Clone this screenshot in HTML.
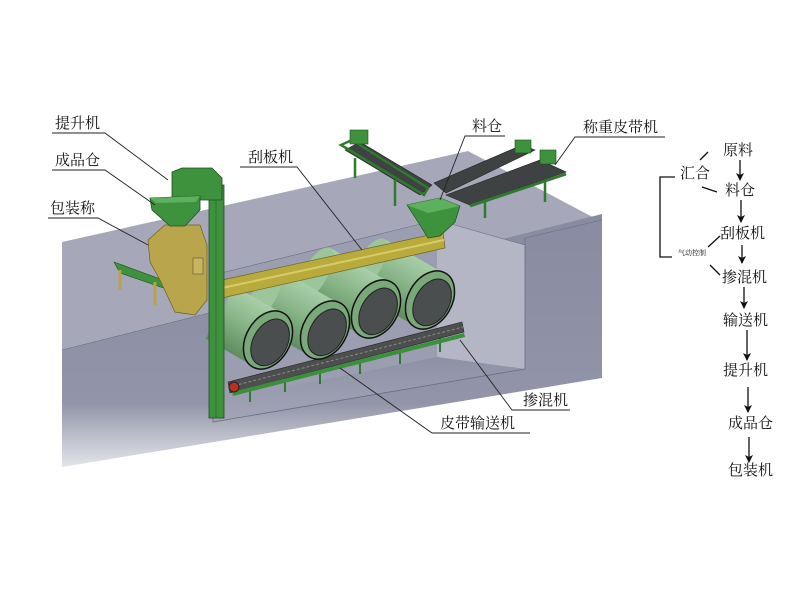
<!DOCTYPE html>
<html><head><meta charset="utf-8"><style>
html,body{margin:0;padding:0;background:#fff;}
svg{display:block}
text{font-family:"Noto Serif CJK SC","Liberation Serif",serif;fill:#111;}
</style></head><body>
<svg width="800" height="600" viewBox="0 0 800 600" xmlns="http://www.w3.org/2000/svg">
<defs>
<linearGradient id="fl" x1="0" y1="0" x2="0" y2="1"><stop offset="0" stop-color="#8e91a6"/><stop offset="1" stop-color="#a3a5b6"/></linearGradient>
<linearGradient id="ff" x1="0" y1="0" x2="0" y2="1"><stop offset="0" stop-color="#888ba1"/><stop offset="0.75" stop-color="#9295a9"/><stop offset="1" stop-color="#e4e5ea"/></linearGradient>
<linearGradient id="dr" x1="0" y1="0" x2="0" y2="1"><stop offset="0" stop-color="#a9cfa9"/><stop offset="0.5" stop-color="#86b386"/><stop offset="1" stop-color="#5f8d5f"/></linearGradient>
<marker id="ar" markerWidth="8" markerHeight="8" refX="7" refY="4" orient="auto" markerUnits="userSpaceOnUse"><path d="M0,0 L8,4 L0,8 L2,4 Z" fill="#111"/></marker>
</defs>

<!-- block -->
<polygon points="62,242 468,151 602,222 602,220 62,350" fill="#a6a8ba"/>
<polygon points="62,350 602,214 602,378 62,467" fill="url(#ff)"/>
<!-- pit -->
<polygon points="213,275 437,220 525,245 525,369 213,422" fill="#9b9eb1"/>
<polygon points="437,220 525,245 525,369 437,357" fill="#b4b6c5"/>
<polygon points="213,402 437,357 525,369 213,422" fill="url(#fl)"/>
<polyline points="213,312 213,422 525,369 525,238" fill="none" stroke="#6a6d80" stroke-width="0.8"/>
<polyline points="213,275 437,220 525,245" fill="none" stroke="#6a6d80" stroke-width="0.6"/>
<line x1="62" y1="350" x2="213" y2="312" stroke="#6a6d80" stroke-width="0.6"/>
<line x1="525" y1="238" x2="602" y2="220" stroke="#6a6d80" stroke-width="0.6"/>

<!-- belt conveyor under -->
<g>
<line x1="250" y1="385" x2="250" y2="402" stroke="#2f7a2f" stroke-width="2"/>
<line x1="285" y1="375" x2="285" y2="392" stroke="#2f7a2f" stroke-width="2"/>
<line x1="320" y1="366" x2="320" y2="384" stroke="#2f7a2f" stroke-width="2"/>
<line x1="360" y1="356" x2="360" y2="374" stroke="#2f7a2f" stroke-width="2"/>
<line x1="400" y1="346" x2="400" y2="364" stroke="#2f7a2f" stroke-width="2"/>
<line x1="440" y1="336" x2="440" y2="352" stroke="#2f7a2f" stroke-width="2"/>
<polygon points="228,382 462,322 464,332 230,393" fill="#4d4f4f" stroke="#222" stroke-width="0.6"/>
<line x1="229" y1="387" x2="463" y2="327" stroke="#888" stroke-width="1" stroke-dasharray="3,2"/>
<polygon points="232,392 464,333 465,337 233,396" fill="#3c8f3c"/>
<circle cx="234" cy="387" r="5" fill="#b83020" stroke="#222"/>
</g>

<!-- drums -->
<g transform="translate(430,300) rotate(30)"><rect x="-70" y="-30" width="70" height="60" fill="url(#dr)"/><ellipse cx="-70" cy="0" rx="12" ry="30" fill="#9cc59c"/><ellipse cx="0" cy="0" rx="22" ry="31" fill="#7aa87a" stroke="#111" stroke-width="1.5"/><ellipse cx="3" cy="1" rx="17" ry="25" fill="#4a4e4e" stroke="#222"/></g>
<g transform="translate(376,309) rotate(30)"><rect x="-70" y="-30" width="70" height="60" fill="url(#dr)"/><ellipse cx="-70" cy="0" rx="12" ry="30" fill="#9cc59c"/><ellipse cx="0" cy="0" rx="22" ry="31" fill="#7aa87a" stroke="#111" stroke-width="1.5"/><ellipse cx="3" cy="1" rx="17" ry="25" fill="#4a4e4e" stroke="#222"/></g>
<g transform="translate(325,330) rotate(30)"><rect x="-70" y="-30" width="70" height="60" fill="url(#dr)"/><ellipse cx="-70" cy="0" rx="12" ry="30" fill="#9cc59c"/><ellipse cx="0" cy="0" rx="22" ry="31" fill="#7aa87a" stroke="#111" stroke-width="1.5"/><ellipse cx="3" cy="1" rx="17" ry="25" fill="#4a4e4e" stroke="#222"/></g>
<g transform="translate(268,340) rotate(30)"><rect x="-55" y="-30" width="55" height="60" fill="url(#dr)"/><ellipse cx="0" cy="0" rx="22" ry="31" fill="#7aa87a" stroke="#111" stroke-width="1.5"/><ellipse cx="3" cy="1" rx="17" ry="25" fill="#4a4e4e" stroke="#222"/></g>

<!-- scraper -->
<polygon points="222,280 443,232 445,248 222,298" fill="#b8aa3c" stroke="#6d6520" stroke-width="0.7"/>
<line x1="222" y1="288" x2="444" y2="240" stroke="#d8cc6a" stroke-width="2"/>

<!-- hopper -->
<polygon points="407,205 440,198 460,206 455,222 440,236 428,238 418,222" fill="#3e923e" stroke="#1f4f1f" stroke-width="0.7"/>
<polygon points="407,205 440,198 460,206 428,213" fill="#5db05d"/>

<!-- top conveyors -->
<polygon points="345,150 360,142 432,185 420,195" fill="#3f4242" stroke="#222" stroke-width="0.6"/>
<polygon points="341,145 352,140 428,188 424,195" fill="none" stroke="#2f7a2f" stroke-width="2.5"/>
<rect x="350" y="130" width="18" height="14" fill="#3e923e" stroke="#1f4f1f" stroke-width="0.6"/>
<line x1="355" y1="158" x2="355" y2="178" stroke="#2f7a2f" stroke-width="2.5"/>
<line x1="395" y1="180" x2="395" y2="206" stroke="#2f7a2f" stroke-width="2.5"/>
<polygon points="434,183 522,145 535,150 446,193" fill="#3f4242" stroke="#222" stroke-width="0.6"/>
<polygon points="446,195 540,160 566,172 470,205" fill="#3f4242" stroke="#222" stroke-width="0.6"/>
<line x1="470" y1="206" x2="566" y2="174" stroke="#2f7a2f" stroke-width="3"/>
<rect x="515" y="140" width="16" height="13" fill="#3e923e" stroke="#1f4f1f" stroke-width="0.6"/>
<rect x="540" y="150" width="16" height="14" fill="#3e923e" stroke="#1f4f1f" stroke-width="0.6"/>
<line x1="485" y1="200" x2="485" y2="218" stroke="#2f7a2f" stroke-width="2.5"/>
<line x1="545" y1="180" x2="545" y2="202" stroke="#2f7a2f" stroke-width="2.5"/>

<!-- packing scale -->
<polygon points="114,262 185,288 193,298 120,273" fill="#3e923e" stroke="#1f4f1f" stroke-width="0.6"/>
<line x1="120" y1="270" x2="120" y2="290" stroke="#b8a24a" stroke-width="3"/>
<line x1="155" y1="282" x2="155" y2="305" stroke="#b8a24a" stroke-width="3"/>
<polygon points="148,240 165,225 200,225 207,245 207,300 195,315 175,312 160,280 150,262" fill="#b9a54c" stroke="#6d6020" stroke-width="0.7"/>
<rect x="193" y="258" width="10" height="16" fill="#c9b55c" stroke="#444" stroke-width="0.5"/>

<!-- elevator -->
<rect x="209" y="185" width="15" height="233" fill="#3e923e" stroke="#1f4f1f" stroke-width="0.8"/>
<line x1="216" y1="185" x2="216" y2="418" stroke="#2a6a2a" stroke-width="0.8"/>
<polygon points="172,172 182,168 212,168 222,178 222,200 172,200" fill="#3e923e" stroke="#1f4f1f" stroke-width="0.8"/>
<polygon points="150,198 200,196 200,210 185,226 170,226 152,210" fill="#3e923e" stroke="#1f4f1f" stroke-width="0.8"/>
<polygon points="150,198 200,196 196,202 156,203" fill="#5db05d"/>

<!-- leader lines -->
<g stroke="#222" stroke-width="0.9" fill="none">
<polyline points="52,133 105,133 168,180"/>
<polyline points="52,170 105,170 155,205"/>
<polyline points="48,218 98,218 148,245"/>
<polyline points="240,167 297,167 362,250"/>
<polyline points="505,136 465,136 440,200"/>
<polyline points="665,137 575,137 555,165"/>
<polyline points="570,410 512,410 460,340"/>
<polyline points="530,433 432,433 340,368"/>
</g>
<g font-size="15">
<text x="55" y="128">提升机</text>
<text x="55" y="165">成品仓</text>
<text x="50" y="213">包装称</text>
<text x="248" y="162">刮板机</text>
<text x="472" y="131">料仓</text>
<text x="583" y="132">称重皮带机</text>
<text x="523" y="405">掺混机</text>
<text x="440" y="428">皮带输送机</text>
</g>

<!-- flow chart -->
<g font-size="15">
<text x="723" y="155">原料</text>
<text x="680" y="178">汇合</text>
<text x="725" y="195">料仓</text>
<text x="720" y="238">刮板机</text>
<text x="722" y="282">掺混机</text>
<text x="723" y="325">输送机</text>
<text x="723" y="375">提升机</text>
<text x="728" y="428">成品仓</text>
<text x="728" y="475">包装机</text>
</g>
<text x="678" y="255" font-size="7">气动控制</text>
<g stroke="#111" stroke-width="1.3" fill="none">
<line x1="700" y1="160" x2="708" y2="152"/>
<line x1="702" y1="187" x2="717" y2="192"/>
<polyline points="675,177 660,177 660,257 672,257"/>
<line x1="708" y1="247" x2="720" y2="236"/>
<line x1="710" y1="265" x2="720" y2="275"/>
<line x1="740" y1="160" x2="740" y2="180" marker-end="url(#ar)"/>
<line x1="741" y1="200" x2="741" y2="222" marker-end="url(#ar)"/>
<line x1="742" y1="245" x2="742" y2="263" marker-end="url(#ar)"/>
<line x1="744" y1="287" x2="744" y2="308" marker-end="url(#ar)"/>
<line x1="747" y1="330" x2="747" y2="360" marker-end="url(#ar)"/>
<line x1="748" y1="387" x2="748" y2="412" marker-end="url(#ar)"/>
<line x1="749" y1="437" x2="749" y2="462" marker-end="url(#ar)"/>
</g>
</svg>
</body></html>
